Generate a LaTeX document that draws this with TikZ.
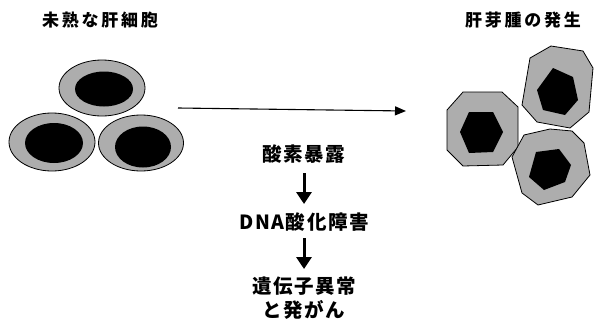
\documentclass[tikz,border=0pt]{standalone}
\usepackage{fontspec}
\setmainfont{Noto Sans CJK JP}
\newfontfamily\titlefont[LetterSpace=16]{Noto Sans CJK JP}
\newfontfamily\labelfont[LetterSpace=8]{Noto Sans CJK JP}
\usetikzlibrary{arrows.meta}
\begin{document}
\begin{tikzpicture}[x=1pt,y=-1pt,
  cytoplasm/.style={draw=black,line width=0.8pt,fill=black!32},
  nucleus/.style={fill=black},
  heading/.style={font=\titlefont\bfseries\fontsize{17}{17}\selectfont,inner sep=0pt},
  stage/.style={font=\labelfont\bfseries\fontsize{19.5}{24}\selectfont,inner sep=0pt,align=center},
  flowarrow/.style={line width=1.1pt,-{Triangle[width=9pt,length=11pt]}},
  downarrow/.style={line width=3pt,-{Triangle[width=15pt,length=12pt]}}]
\useasboundingbox (0,0) rectangle (594,327);

% headings
\node[heading] (immature) at (100,20) {未熟な肝細胞};
\node[heading] (tumour) at (523,20) {肝芽腫の発生};

% immature hepatocytes: round cells with round nuclei
\draw[cytoplasm] (102,88) ellipse [x radius=43, y radius=28];
\fill[nucleus] (104,89) ellipse [x radius=29, y radius=17.5];
\draw[cytoplasm] (52,142) ellipse [x radius=43, y radius=29];
\fill[nucleus] (54,143) ellipse [x radius=29, y radius=20];
\draw[cytoplasm] (141,143) ellipse [x radius=42.5, y radius=28];
\fill[nucleus] (143,147) ellipse [x radius=28, y radius=20.5];

% hepatoblastoma cells: angular cells with angular nuclei
\draw[cytoplasm] (463,92) -- (502,92) -- (518,107) -- (518,147) -- (503,165)
  -- (463,166) -- (447,150) -- (447,110) -- cycle;
\fill[nucleus] (469,112) -- (493,112) -- (503,132) -- (493,152) -- (469,153)
  -- (460,132) -- cycle;
\draw[cytoplasm] (530,58) -- (551,46) -- (583,51) -- (593,68) -- (589,112)
  -- (570,128) -- (537,122) -- (522,105) -- cycle;
\fill[nucleus] (553,68) -- (573,77) -- (578,100) -- (565,115) -- (543,110)
  -- (537,90) -- cycle;
\draw[cytoplasm] (512,157) -- (524,135) -- (550,129) -- (572,131) -- (584,143)
  -- (590,175) -- (572,197) -- (538,205) -- (522,193) -- cycle;
\fill[nucleus] (536,152) -- (559,149) -- (571,165) -- (565,182) -- (544,190)
  -- (529,177) -- cycle;

% progression arrow
\coordinate (from) at (178,108);
\coordinate (to) at (406,111);
\draw[flowarrow] (from) -- (to);

% causal chain
\node[stage] (exposure) at (304,154) {酸素暴露};
\node[stage] (damage) at (304,222) {DNA酸化障害};
\node[stage] (mutation) at (304,298) {遺伝子異常\\と発がん};
\draw[downarrow,shorten <=19pt,shorten >=18pt] (exposure.center) -- (damage.center);
\draw[downarrow,shorten <=16pt,shorten >=29pt] (damage.center) -- (mutation.center);
\end{tikzpicture}
\end{document}
